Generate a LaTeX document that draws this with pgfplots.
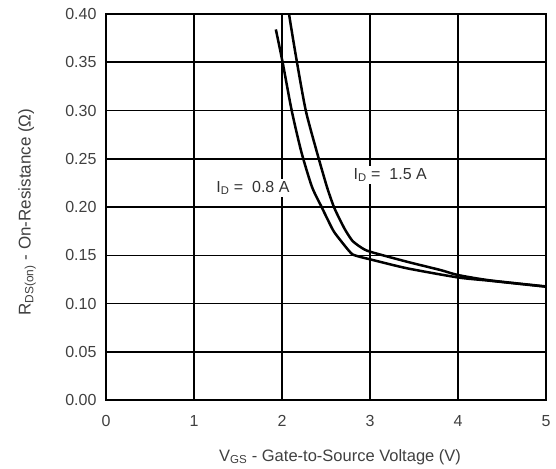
\documentclass[border=0pt]{standalone}
\usepackage{fontspec}
\setmainfont{Liberation Sans}
\usepackage{pgfplots}
\pgfplotsset{compat=1.18}
\begin{document}
\begin{tikzpicture}
\begin{axis}[
  scale only axis,
  width=440bp, height=386bp,
  xmin=0, xmax=5, ymin=0, ymax=0.40,
  xtick={0,1,2,3,4,5},
  ytick={0,0.05,0.10,0.15,0.20,0.25,0.30,0.35,0.40},
  /pgf/number format/assume math mode=true,
  yticklabel style={/pgf/number format/fixed, /pgf/number format/precision=2, /pgf/number format/fixed zerofill, text=black!75, xshift=-6bp},
  xticklabel style={text=black!75, yshift=-12bp},
  major tick length=0pt,
  grid=major,
  major grid style={line width=1.5bp, black},
  axis line style={line width=1.7bp},
  tick label style={font=\fontsize{16bp}{18bp}\selectfont},
  xlabel={V\textsubscript{GS} - Gate-to-Source Voltage (V)},
  ylabel={R\textsubscript{DS(on)} - On-Resistance (Ω)},
  xlabel style={at={(axis description cs:0.5,0)}, anchor=center, xshift=14bp, yshift=-57bp, font=\fontsize{16.5bp}{18bp}\selectfont, text=black!75},
  ylabel style={at={(axis description cs:0,0.5)}, anchor=center, rotate=0, xshift=-5bp, yshift=79bp, font=\fontsize{17bp}{19bp}\selectfont, text=black!75},
  clip=true,
]
\addplot[black, line width=2.5bp, line join=round, smooth, tension=0.4] coordinates {
(1.93,0.384) (2.007,0.35) (2.11,0.30) (2.22,0.257) (2.34,0.221) (2.45,0.20)
(2.58,0.176) (2.66,0.166) (2.73,0.158) (2.80,0.151) (2.9,0.148) (3.0,0.1458)
(3.42,0.1365) (4.0,0.127) (4.36,0.1236) (5.0,0.1174)
};
\addplot[black, line width=2.5bp, line join=round, smooth, tension=0.4] coordinates {
(2.06,0.42) (2.08,0.40) (2.17,0.35) (2.27,0.30) (2.39,0.259) (2.51,0.221)
(2.59,0.20) (2.66,0.1865) (2.72,0.176) (2.80,0.165) (2.90,0.158) (3.0,0.1537)
(3.42,0.1433) (3.80,0.1347) (4.0,0.1295) (4.36,0.124) (5.0,0.1177)
};
\node[fill=white, inner sep=2bp, text=black!80, font=\fontsize{16bp}{18bp}\selectfont] at (axis cs:1.67,0.2197) {I\textsubscript{D} =\ \ 0.8 A};
\node[fill=white, inner sep=2bp, text=black!80, font=\fontsize{16bp}{18bp}\selectfont] at (axis cs:3.23,0.233) {I\textsubscript{D} =\ \ 1.5 A};
\end{axis}
\path (current axis.south west) ++(-106bp,-68bp) coordinate (bbsw);
\path (current axis.north east) ++(10bp,14bp) coordinate (bbne);
\path (bbsw) rectangle (bbne);
\end{tikzpicture}
\end{document}
